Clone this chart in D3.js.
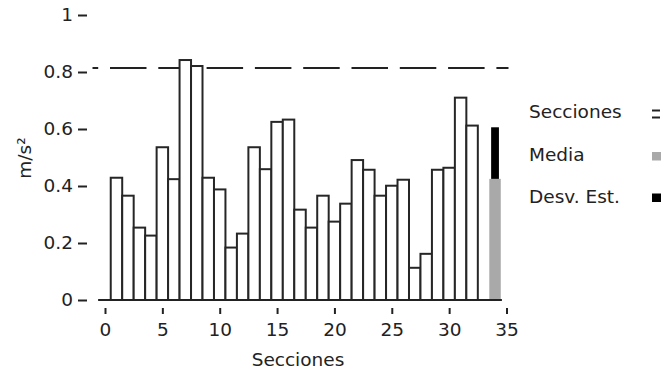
<!DOCTYPE html>
<html>
<head>
<meta charset="utf-8">
<script src="https://cdn.jsdelivr.net/npm/d3@7"></script>
<style>
  html, body { margin: 0; padding: 0; background: #fff; }
  svg { display: block; font-family: "DejaVu Sans", sans-serif; }
  text { fill: #222; }
</style>
</head>
<body>
<svg id="chart" width="668" height="373"></svg>
<script>
// Section numbers and the measured acceleration per section (m/s²)
const sections = d3.range(1, 33);
const values = [
  0.429, 0.366, 0.254, 0.226, 0.536, 0.424, 0.842, 0.821, 0.429, 0.388,
  0.184, 0.233, 0.536, 0.459, 0.625, 0.633, 0.317, 0.254, 0.366, 0.275,
  0.338, 0.491, 0.457, 0.366, 0.401, 0.422, 0.113, 0.162, 0.457, 0.464,
  0.710, 0.612
];
// Summary column: mean (gray) with the standard deviation stacked on top (black)
const summaryPos = 34;
const meanValue = 0.425;
const stdValue = 0.181;
// Reference limit drawn as a dashed line
const limitValue = 0.814;

const xTicks = [0, 5, 10, 15, 20, 25, 30, 35];
const yTicks = [0, 0.2, 0.4, 0.6, 0.8, 1];
const legendLabels = ["Secciones", "Media", "Desv. Est."];

const FS = 18.5;
const svg = d3.select("#chart");

const x = d3.scaleLinear().domain([0, 35]).range([105, 506.5]);
const y = d3.scaleLinear().domain([0, 1]).range([300, 15]);

// Y axis: labels with short dash ticks, no domain line
const yAxis = svg.append("g")
  .attr("transform", "translate(87,0)")
  .call(d3.axisLeft(y).tickValues(yTicks).tickSize(9).tickPadding(5)
    .tickFormat(d3.format("~g")));
yAxis.select(".domain").remove();
yAxis.selectAll("line").attr("stroke", "#222").attr("stroke-width", 2);
yAxis.selectAll("text").attr("font-size", FS).attr("font-family", "DejaVu Sans, sans-serif").attr("fill", "#222");

// X axis: short vertical ticks under the baseline
const xAxis = svg.append("g")
  .attr("transform", "translate(0,308)")
  .call(d3.axisBottom(x).tickValues(xTicks).tickSize(6).tickPadding(9)
    .tickFormat(d3.format("d")));
xAxis.select(".domain").remove();
xAxis.selectAll("line").attr("stroke", "#222").attr("stroke-width", 2);
xAxis.selectAll("text").attr("font-size", FS).attr("font-family", "DejaVu Sans, sans-serif").attr("fill", "#222");

// Dashed limit line
svg.append("line")
  .attr("x1", 92.5).attr("x2", 508.5)
  .attr("y1", y(limitValue)).attr("y2", y(limitValue))
  .attr("stroke", "#222").attr("stroke-width", 2)
  .attr("stroke-dasharray", "36.5 11.8")
  .attr("stroke-dashoffset", 30.8);

// Section bars
svg.append("g").selectAll("rect")
  .data(values)
  .join("rect")
  .attr("x", (d, i) => x(sections[i] - 0.5))
  .attr("width", (d, i) => x(sections[i] + 0.5) - x(sections[i] - 0.5))
  .attr("y", d => y(d))
  .attr("height", d => y(0) - y(d))
  .attr("fill", "#fff")
  .attr("stroke", "#262626")
  .attr("stroke-width", 2);

// Mean and standard deviation column
svg.append("rect")
  .attr("x", x(summaryPos - 0.5))
  .attr("width", x(summaryPos + 0.5) - x(summaryPos - 0.5))
  .attr("y", y(meanValue))
  .attr("height", y(0) - y(meanValue))
  .attr("fill", "#a9a9a9");
svg.append("rect")
  .attr("x", x(summaryPos - 0.34))
  .attr("width", x(summaryPos + 0.34) - x(summaryPos - 0.34))
  .attr("y", y(meanValue + stdValue))
  .attr("height", y(meanValue) - y(meanValue + stdValue))
  .attr("fill", "#000");

// Baseline
svg.append("line")
  .attr("x1", x(-0.6)).attr("x2", x(34.6))
  .attr("y1", y(0)).attr("y2", y(0))
  .attr("stroke", "#222").attr("stroke-width", 2);

// Axis titles
svg.append("text")
  .attr("x", 298).attr("y", 366)
  .attr("text-anchor", "middle")
  .attr("font-size", FS)
  .text("Secciones");
svg.append("text")
  .attr("transform", "translate(31,158) rotate(-90)")
  .attr("text-anchor", "middle")
  .attr("font-size", FS)
  .text("m/s²");

// Legend
const legend = svg.append("g");
const legendY = [118, 160.5, 203];
legend.selectAll("text")
  .data(legendLabels)
  .join("text")
  .attr("x", 529)
  .attr("y", (d, i) => legendY[i])
  .attr("font-size", FS)
  .text(d => d);
// open bar symbol
legend.append("line").attr("x1", 652).attr("x2", 660).attr("y1", 110.5).attr("y2", 110.5)
  .attr("stroke", "#222").attr("stroke-width", 2);
legend.append("line").attr("x1", 652).attr("x2", 660).attr("y1", 117.5).attr("y2", 117.5)
  .attr("stroke", "#222").attr("stroke-width", 2);
legend.append("rect").attr("x", 652).attr("y", 152).attr("width", 9).attr("height", 8.5).attr("fill", "#a9a9a9");
legend.append("rect").attr("x", 652).attr("y", 193.5).attr("width", 9).attr("height", 8.5).attr("fill", "#000");
</script>
</body>
</html>
